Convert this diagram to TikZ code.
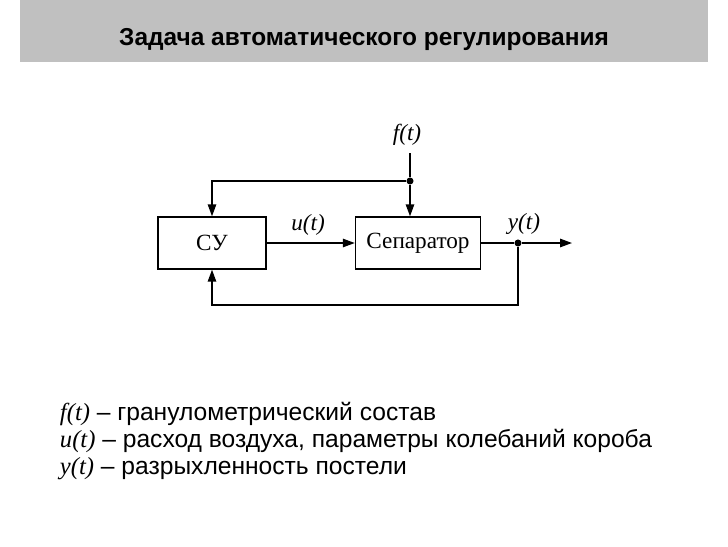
\documentclass[tikz,border=0pt]{standalone}
\usepackage{fontspec}
\setmainfont{Liberation Serif}
\setsansfont{Liberation Sans}
\usepackage{xcolor}
\usetikzlibrary{arrows.meta,positioning,calc}
\definecolor{hdr}{RGB}{192,192,192}
\tikzset{
  block/.style={rectangle,draw=black,line width=1pt,minimum width=2.7cm,minimum height=1.3cm,font=\fontsize{16.5}{19}\selectfont},
  wire/.style={line width=1pt},
  sig/.style={-{Triangle[length=8.5pt,width=6pt]},line width=1pt},
  junc/.style={circle,fill=black,inner sep=0pt,minimum size=5pt},
  varlbl/.style={font=\fontsize{16.5}{19}\selectfont\itshape},
  legend/.style={anchor=base west,font=\sffamily\fontsize{17.5}{20}\selectfont},
}

\begin{document}
\begin{tikzpicture}[x=0.025cm,y=-0.025cm]
\useasboundingbox (0,0) rectangle (728,546);
\fill[white] (0,0) rectangle (728,546);
% Header
\fill[hdr] (20,0) rectangle (708,62);
\node[font=\sffamily\bfseries\fontsize{17.4}{20}\selectfont] (title) at (364,40) {Задача автоматического регулирования};

% --- Blocks ---
\node[block] (su) at (212,243) {СУ};
\node[block,minimum width=3.125cm] (sep) at (418,243) {Сепаратор};

% --- Disturbance f(t) ---
\node[varlbl] (flbl) at (407,135) {f(t)};
\coordinate (fin) at (410,153);
\node[junc] (fdot) at (410,181) {};
\draw[wire] (fin) -- (fdot);
\draw[sig] (fdot) -- (fdot |- sep.north);
\draw[sig] (fdot) -| (su.north);

% --- Control u(t) ---
\draw[sig] (su) -- (sep);
\node[varlbl] (ulbl) at (308,225) {u(t)};

% --- Output y(t) and feedback ---
\node[junc] (ydot) at (518,243) {};
\coordinate (yout) at (572,243);
\coordinate (fb) at (518,305);
\draw[wire] (sep.east) -- (ydot);
\draw[sig] (ydot) -- (yout);
\draw[sig] (ydot) -- (fb) -| (su.south);
\node[varlbl] (ylbl) at (524,224) {y(t)};

% Legend
\node[legend] (leg1) at (55,420) {\textit{\rmfamily f(t)} – гранулометрический состав};
\node[legend] (leg2) at (55,447) {\textit{\rmfamily u(t)} – расход воздуха, параметры колебаний короба};
\node[legend] (leg3) at (55,474) {\textit{\rmfamily y(t)} – разрыхленность постели};
\end{tikzpicture}
\end{document}
